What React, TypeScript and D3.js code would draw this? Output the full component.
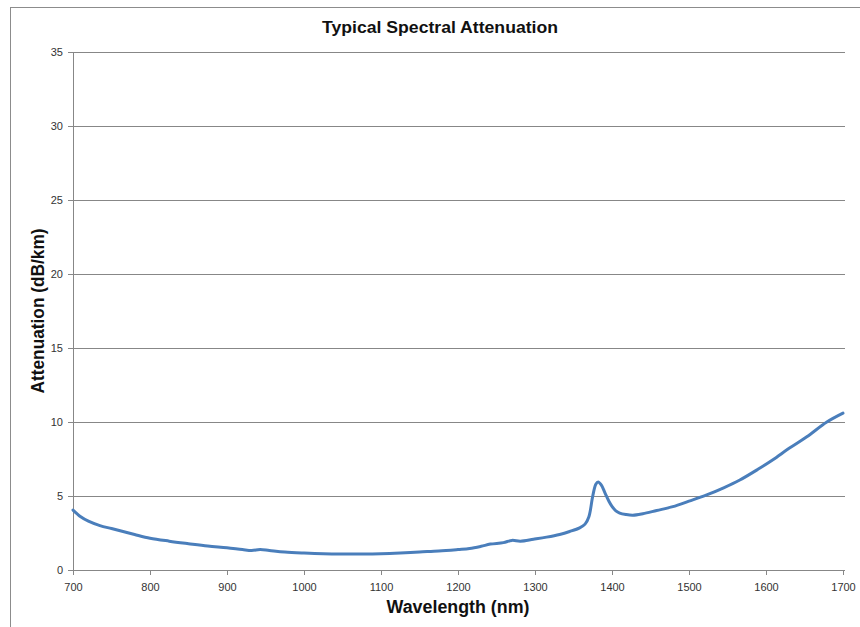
import React from "react"
import * as d3 from "d3"

// values
const wavelengths = [
	700, 710, 720, 735, 750, 765, 780, 800, 825, 850, 875, 900, 920, 932, 943, 955,
	975, 1000, 1025, 1050, 1075, 1100, 1125, 1150, 1175, 1200, 1215, 1230, 1242,
	1259, 1270, 1281, 1298, 1315, 1332, 1345, 1358, 1365, 1370, 1375, 1379, 1382,
	1386, 1391, 1396, 1400, 1405, 1410, 1418, 1427, 1440, 1458, 1479, 1500, 1523,
	1545, 1566, 1590, 1609, 1630, 1653, 1679, 1700,
]
const attenuation = [
	4.05, 3.6, 3.3, 3.0, 2.8, 2.6, 2.4, 2.15, 1.95, 1.78, 1.62, 1.5, 1.38, 1.32,
	1.38, 1.32, 1.22, 1.15, 1.1, 1.08, 1.08, 1.1, 1.15, 1.22, 1.28, 1.38, 1.45,
	1.6, 1.75, 1.85, 2.0, 1.95, 2.08, 2.22, 2.4, 2.6, 2.85, 3.1, 3.6, 5.0, 5.8,
	5.95, 5.75, 5.2, 4.65, 4.3, 4.0, 3.85, 3.75, 3.7, 3.8, 4.02, 4.28, 4.65, 5.07,
	5.55, 6.08, 6.82, 7.45, 8.22, 9.0, 10.0, 10.6,
]
const xTicks = [700, 800, 900, 1000, 1100, 1200, 1300, 1400, 1500, 1600, 1700]
const yTicks = [0, 5, 10, 15, 20, 25, 30, 35]

const title = "Typical Spectral Attenuation"
const xLabel = "Wavelength (nm)"
const yLabel = "Attenuation (dB/km)"

const App: React.FC = () => {
	const width = 860
	const height = 627
	const margin = { top: 52, right: 17, bottom: 57, left: 73 }
	const innerWidth = width - margin.left - margin.right
	const innerHeight = height - margin.top - margin.bottom

	const x = d3.scaleLinear().domain([700, 1700]).range([0, innerWidth])
	const y = d3.scaleLinear().domain([0, 35]).range([innerHeight, 0])

	const points: [number, number][] = wavelengths.map((w, i) => [w, attenuation[i]])
	const line = d3
		.line<[number, number]>()
		.x((d) => x(d[0]))
		.y((d) => y(d[1]))
		.curve(d3.curveCatmullRom.alpha(0.5))

	const axisColor = "#878787"
	const font = "'Liberation Sans', Arial, sans-serif"

	return (
		<svg
			width={width}
			height={height}
			style={{ position: "absolute", left: 0, top: 0, background: "#fff" }}>
			{/* outer chart frame */}
			<rect
				x={10.5}
				y={7.5}
				width={width}
				height={height}
				fill="#fff"
				stroke="#8c8c8c"
				strokeWidth={1}
			/>
			<text
				x={440}
				y={33}
				textAnchor="middle"
				fontFamily={font}
				fontWeight="bold"
				fontSize={17}
				textLength={236}
				lengthAdjust="spacingAndGlyphs"
				fill="#111">
				{title}
			</text>
			<g transform={`translate(${margin.left},${margin.top})`}>
				{/* horizontal grid */}
				{yTicks
					.filter((t) => t !== 0)
					.map((t) => (
						<line
							key={"g" + t}
							x1={0}
							x2={innerWidth + 2}
							y1={Math.round(y(t)) + 0.5}
							y2={Math.round(y(t)) + 0.5}
							stroke={axisColor}
							strokeWidth={1}
						/>
					))}
				{/* y axis */}
				<line x1={0.5} x2={0.5} y1={0} y2={innerHeight} stroke={axisColor} />
				{yTicks.map((t) => (
					<g key={"y" + t} transform={`translate(0,${Math.round(y(t)) + 0.5})`}>
						<line x1={-5} x2={0} stroke={axisColor} />
						<text
							x={-10}
							dy="0.35em"
							textAnchor="end"
							fontFamily={font}
							fontSize={11}
							fill="#333">
							{t}
						</text>
					</g>
				))}
				{/* x axis */}
				<line
					x1={0}
					x2={innerWidth + 2}
					y1={innerHeight + 0.5}
					y2={innerHeight + 0.5}
					stroke={axisColor}
				/>
				{xTicks.map((t) => (
					<g key={"x" + t} transform={`translate(${Math.round(x(t)) + 0.5},${innerHeight})`}>
						<line y1={0} y2={5} stroke={axisColor} />
						<text
							y={21}
							textAnchor="middle"
							fontFamily={font}
							fontSize={11}
							fill="#333">
							{t}
						</text>
					</g>
				))}
				{/* attenuation curve */}
				<path
					d={line(points) ?? ""}
					fill="none"
					stroke="#4a7ebb"
					strokeWidth={3}
					strokeLinejoin="round"
					strokeLinecap="round"
				/>
				<text
					x={innerWidth / 2}
					y={innerHeight + 43}
					textAnchor="middle"
					fontFamily={font}
					fontWeight="bold"
					fontSize={18}
					textLength={143}
					lengthAdjust="spacingAndGlyphs"
					fill="#111">
					{xLabel}
				</text>
				<text
					transform={`translate(${-29},${innerHeight / 2}) rotate(-90)`}
					textAnchor="middle"
					fontFamily={font}
					fontWeight="bold"
					fontSize={18}
					textLength={165}
					lengthAdjust="spacingAndGlyphs"
					fill="#111">
					{yLabel}
				</text>
			</g>
		</svg>
	)
}

export default App
